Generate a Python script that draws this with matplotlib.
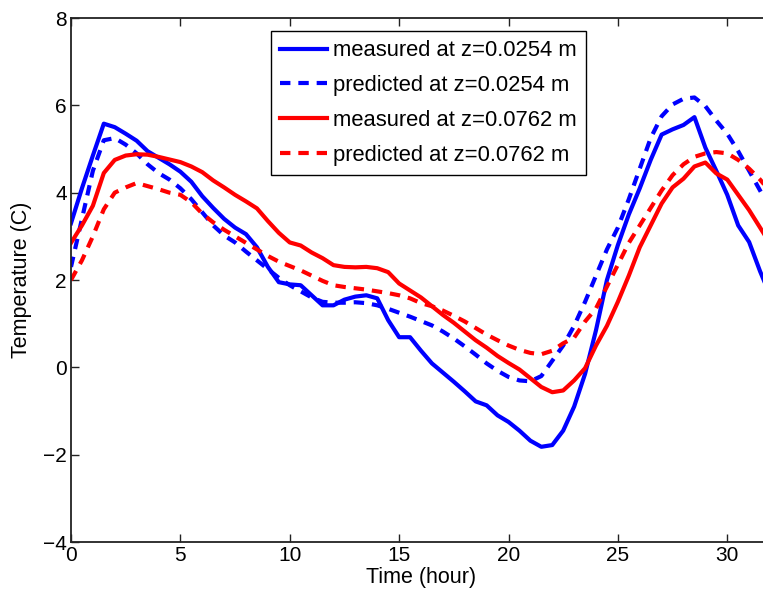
import numpy as np
import matplotlib
matplotlib.use("Agg")
import matplotlib.pyplot as plt

plt.rcParams['font.family'] = ['Liberation Sans', 'DejaVu Sans']

# time axis (hours), sampled every half hour
time_h = np.arange(0, 32.01, 0.5)

# measured / predicted temperature at z=0.0254 m
meas_0254 = [3.3, 4.1, 4.85, 5.58, 5.5, 5.35, 5.19, 4.95, 4.8, 4.65,
             4.48, 4.25, 3.92, 3.65, 3.4, 3.2, 3.05, 2.75, 2.3, 1.95,
             1.9, 1.88, 1.65, 1.42, 1.42, 1.55, 1.62, 1.65, 1.58, 1.08,
             0.69, 0.69, 0.38, 0.09, -0.12, -0.33, -0.55, -0.78, -0.87, -1.1,
             -1.25, -1.45, -1.68, -1.82, -1.78, -1.45, -0.9, -0.15, 0.85, 2.0,
             2.8, 3.5, 4.1, 4.75, 5.33, 5.45, 5.55, 5.73, 5.03, 4.5,
             3.95, 3.25, 2.87, 2.2, 1.6]
pred_0254 = [2.3, 3.4, 4.5, 5.2, 5.25, 5.1, 4.9, 4.65, 4.45, 4.3,
             4.1, 3.85, 3.55, 3.25, 3.02, 2.86, 2.65, 2.45, 2.25, 2.05,
             1.88, 1.74, 1.6, 1.5, 1.48, 1.48, 1.49, 1.47, 1.42, 1.34,
             1.25, 1.16, 1.06, 0.96, 0.82, 0.66, 0.48, 0.29, 0.09, -0.08,
             -0.22, -0.3, -0.32, -0.2, 0.15, 0.5, 0.95, 1.5, 2.1, 2.7,
             3.2, 3.85, 4.55, 5.25, 5.75, 6.02, 6.15, 6.18, 5.98, 5.65,
             5.35, 4.95, 4.5, 4.05, 3.6]

# measured / predicted temperature at z=0.0762 m
meas_0762 = [2.85, 3.25, 3.7, 4.45, 4.75, 4.85, 4.88, 4.87, 4.82, 4.76,
             4.7, 4.6, 4.47, 4.28, 4.12, 3.95, 3.8, 3.64, 3.35, 3.08,
             2.86, 2.79, 2.63, 2.5, 2.34, 2.3, 2.29, 2.3, 2.27, 2.18,
             1.92, 1.76, 1.6, 1.4, 1.2, 1.02, 0.82, 0.62, 0.45, 0.26,
             0.1, -0.05, -0.25, -0.45, -0.57, -0.53, -0.3, -0.02, 0.5, 0.95,
             1.5, 2.1, 2.75, 3.25, 3.75, 4.12, 4.32, 4.6, 4.69, 4.44,
             4.3, 3.95, 3.6, 3.2, 2.8]
pred_0762 = [2.0, 2.45, 3.0, 3.62, 4.0, 4.12, 4.22, 4.15, 4.08, 4.0,
             3.95, 3.78, 3.52, 3.32, 3.15, 3.0, 2.85, 2.7, 2.55, 2.42,
             2.32, 2.22, 2.1, 1.98, 1.88, 1.84, 1.81, 1.78, 1.74, 1.7,
             1.65, 1.58, 1.47, 1.4, 1.3, 1.18, 1.05, 0.9, 0.75, 0.62,
             0.5, 0.4, 0.33, 0.3, 0.38, 0.55, 0.68, 1.05, 1.35, 1.85,
             2.35, 2.85, 3.25, 3.65, 4.05, 4.4, 4.65, 4.82, 4.9, 4.93,
             4.9, 4.75, 4.55, 4.3, 4.0]

labels = ['measured at z=0.0254 m', 'predicted at z=0.0254 m',
          'measured at z=0.0762 m', 'predicted at z=0.0762 m']

fig = plt.figure(figsize=(7.63, 5.96), dpi=100)
# the original picture is cropped on the right, so the axes run past the edge
ax = fig.add_axes([71 / 763, 54 / 596, 700 / 763, 524 / 596])

dash = (2.5, 1.9)
ax.plot(time_h, meas_0254, color='#0000ff', lw=3, label=labels[0])
ax.plot(time_h, pred_0254, color='#0000ff', lw=3, dashes=dash, label=labels[1])
ax.plot(time_h, meas_0762, color='#ff0000', lw=3, label=labels[2])
ax.plot(time_h, pred_0762, color='#ff0000', lw=3, dashes=dash, label=labels[3])

ax.set_xlim(0, 32)
ax.set_ylim(-4, 8)
ax.set_xticks([0, 5, 10, 15, 20, 25, 30])
ax.set_yticks([-4, -2, 0, 2, 4, 6, 8])
ax.tick_params(direction='in', length=6, width=1, labelsize=15, pad=3,
               top=True, right=True, colors='#222222', labelcolor='black')
for s in ax.spines.values():
    s.set_linewidth(1.3)
    s.set_color('#222222')

ax.set_xlabel('Time (hour)', fontsize=15.5, labelpad=1)
ax.set_ylabel('Temperature (C)', fontsize=15.5, labelpad=8)

leg = ax.legend(loc='upper left', bbox_to_anchor=(271 / 763, 1 - 31 / 596),
                bbox_transform=fig.transFigure, borderaxespad=0,
                fontsize=15.8, handlelength=2.15, handletextpad=0.27,
                labelspacing=0.63, borderpad=0.42, fancybox=False,
                framealpha=1, edgecolor='black')
leg.get_frame().set_linewidth(1.0)

fig.savefig('out.png', dpi=100)
